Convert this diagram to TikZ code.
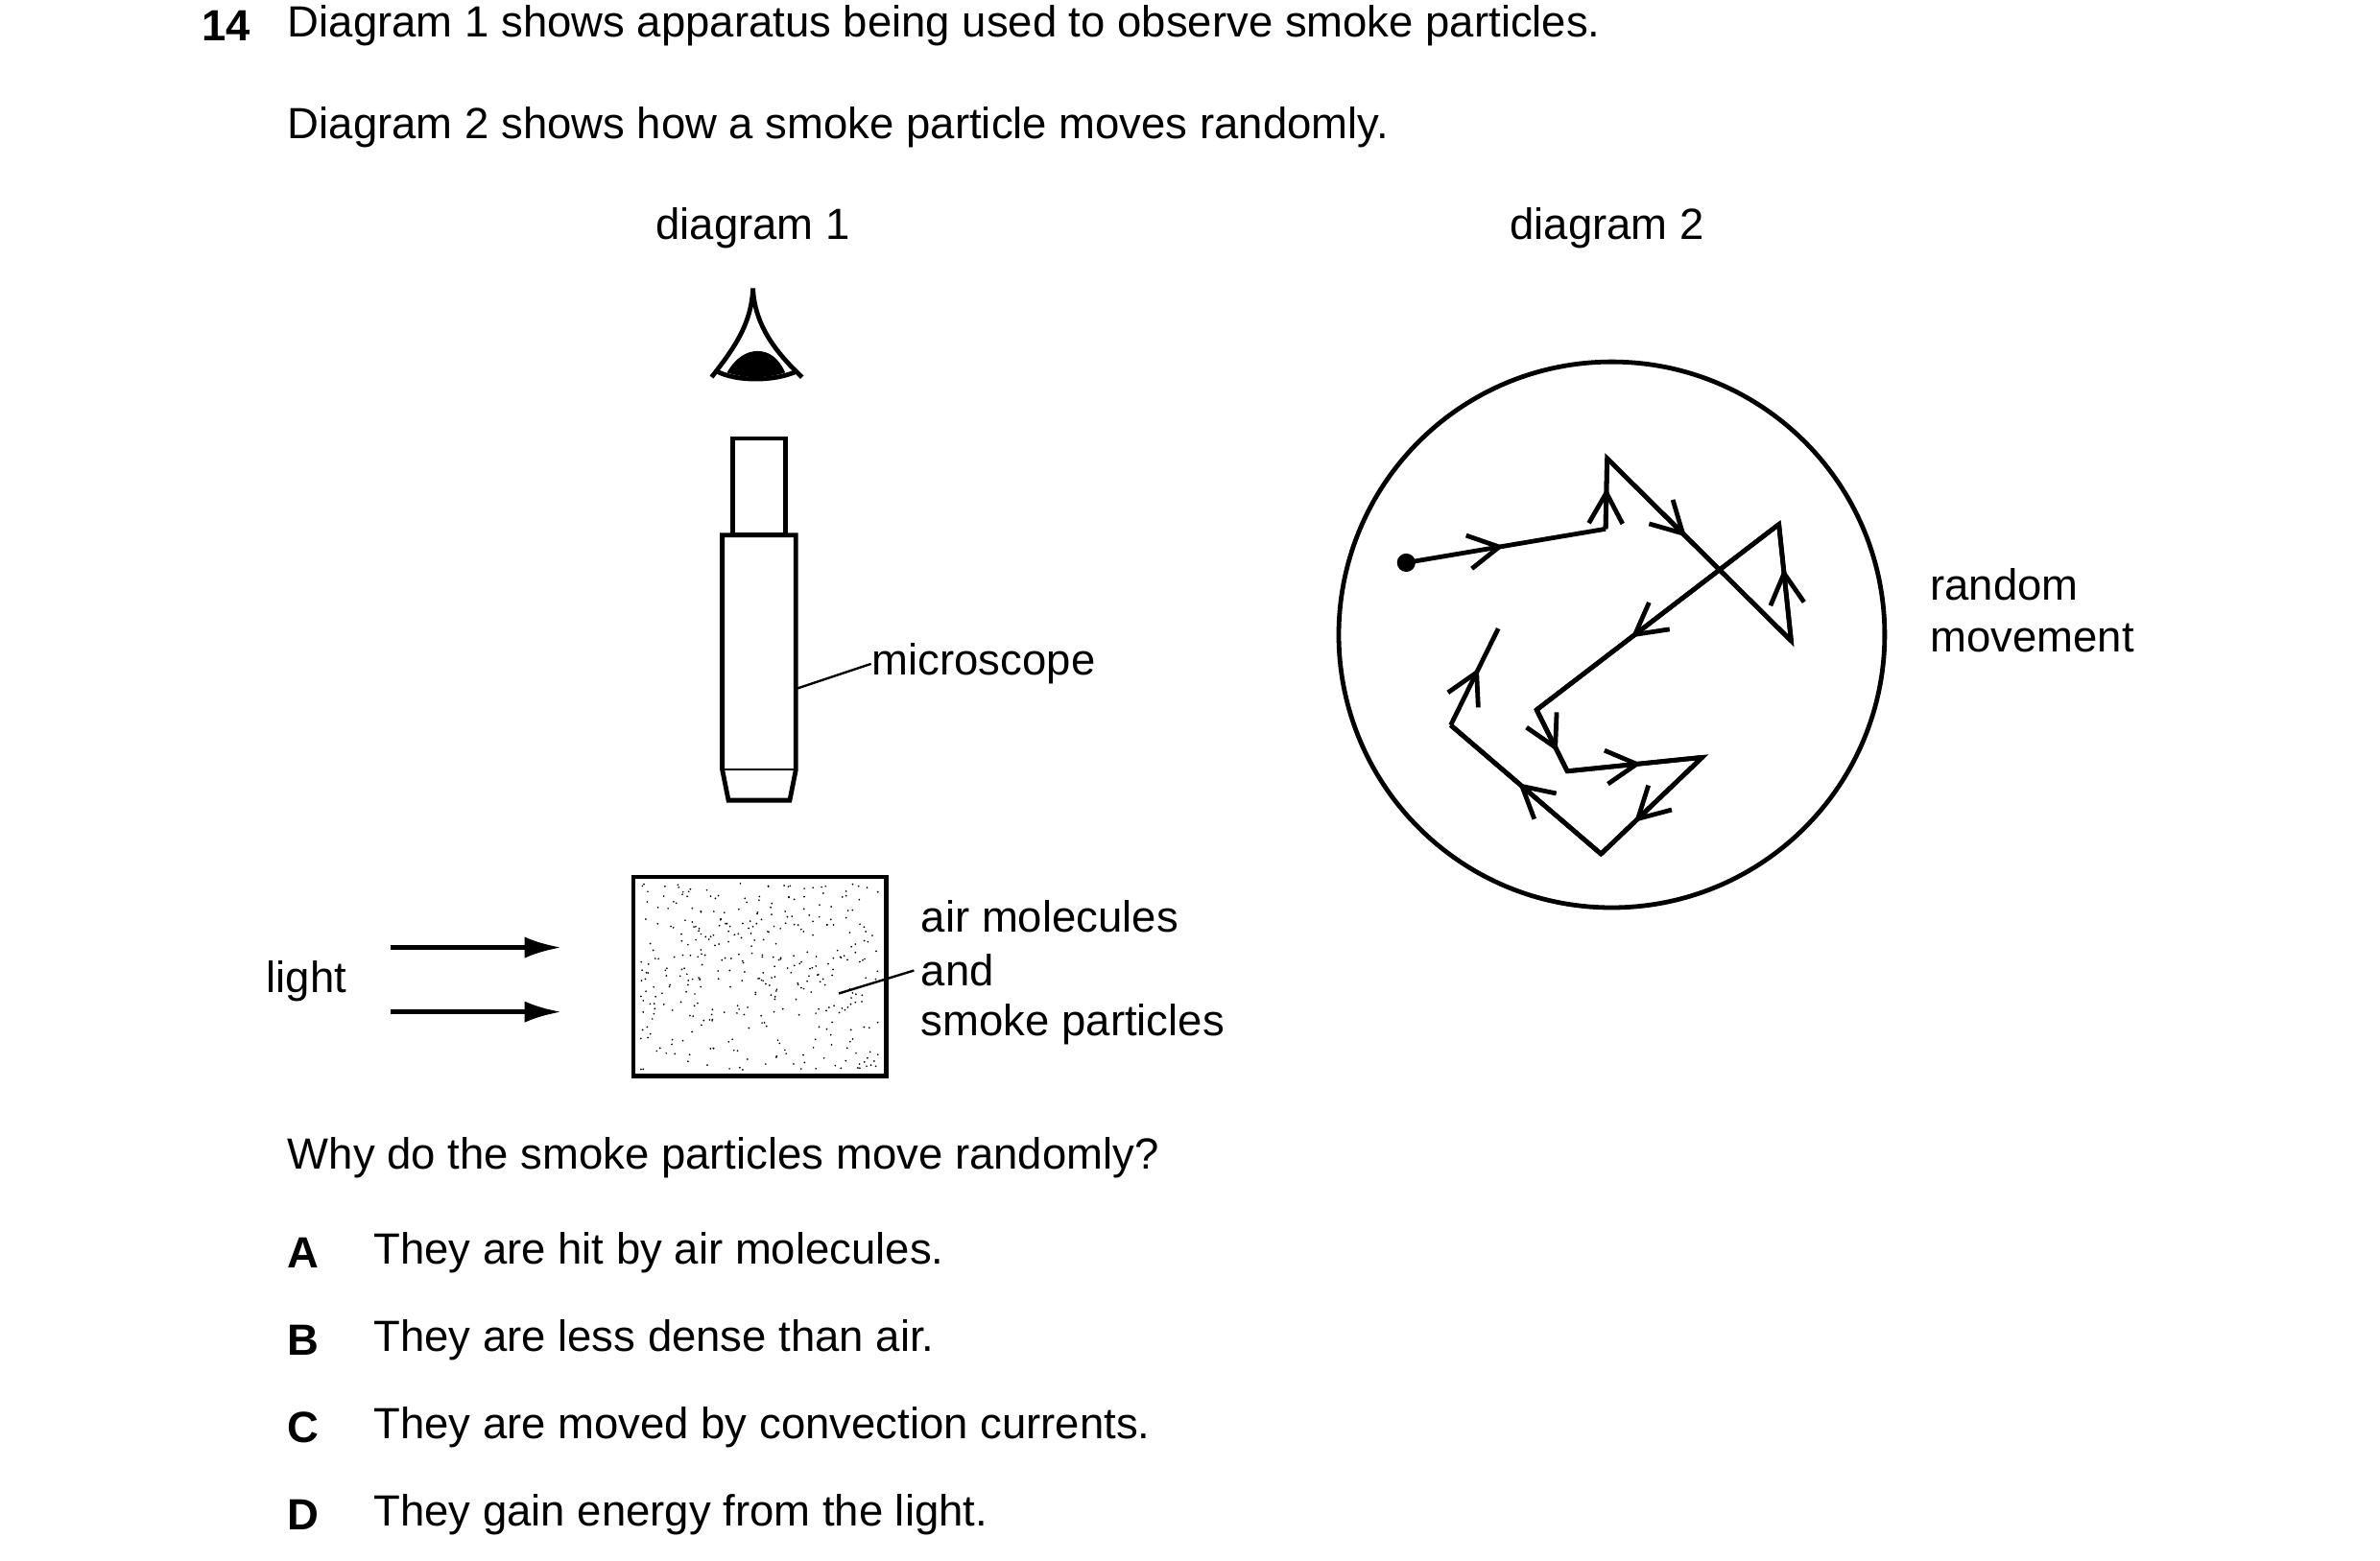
\documentclass[tikz,border=0pt]{standalone}
\usepackage{fontspec}
\setmainfont{Liberation Sans}
\usetikzlibrary{arrows.meta,decorations.markings}
\tikzset{
  txt/.style={anchor=west, inner sep=0pt, font=\fontsize{8.1}{10}\selectfont},
  part/.style={line width=0.3mm, line join=miter},
  mid/.style={postaction={decorate, decoration={markings,
      mark=at position #1 with {\arrow{Straight Barb[length=2mm,width=2.2mm,line width=0.3mm]}}}}}
}
\begin{document}
\begin{tikzpicture}[x=0.1mm, y=-0.1mm]
    \useasboundingbox (0,0) rectangle (1552,1018);

    % Question text
    \node[txt, font=\fontsize{8.1}{10}\selectfont\bfseries] (num) at (131,17) {14};
    \node[txt] (q1) at (187,17) {Diagram 1 shows apparatus being used to observe smoke particles.};
    \node[txt] (q2) at (187,83) {Diagram 2 shows how a smoke particle moves randomly.};
    \node[txt, anchor=center] (d1) at (491,149) {diagram 1};
    \node[txt, anchor=center] (d2) at (1048,149) {diagram 2};

    % Eye
    \draw[part] (464,246) .. controls (478,228) and (490,212) .. (491,188)
                .. controls (492,212) and (506,230) .. (523,246);
    \draw[part] (467,242) .. controls (480,249) and (505,249) .. (520,242);
    \fill (474,243) .. controls (480,233) and (487,229) .. (494,229)
          .. controls (502,229) and (508,234) .. (512,243)
          .. controls (500,247) and (486,247) .. (474,243) -- cycle;

    % Microscope
    \draw[part] (478,349) rectangle (512,286);
    \draw[part] (471,349) -- (519,349) -- (519,502) -- (515,522) -- (475,522) -- (471,502) -- cycle;
    \draw[line width=0.12mm] (471,502) -- (519,502);
    \coordinate (scopept) at (520,449);
    \node[txt] (scope) at (568,433) {microscope};
    \draw[line width=0.15mm] (scopept) -- (scope.west);

    % Smoke cell
    \pgfmathsetseed{11}
    \foreach \i in {1,...,380}
        \fill ({417+rnd*157},{576+rnd*122}) circle (0.6);
    \draw[line width=0.3mm] (413,572) rectangle (578,702);
    \coordinate (cellpt) at (547,648);
    \node[txt] (air) at (600,598) {air molecules};
    \node[txt] (and) at (600,633) {and};
    \node[txt] (smoke) at (600,668) {smoke particles};
    \draw[line width=0.15mm] (cellpt) -- (596,633);

    % Light
    \node[txt] (light) at (173,640) {light};
    \foreach \y in {618,660}
        \draw[line width=0.3mm, -{Latex[length=2.4mm,width=1.4mm]}] (255,\y) -- (366,\y);

    % Diagram 2
    \draw[line width=0.3mm] (1051,414) circle (178);
    \coordinate (p0) at (917,367);
    \coordinate (p1) at (1047,345);
    \coordinate (p2) at (1048,299);
    \coordinate (p3) at (1168,418);
    \coordinate (p4) at (1160,342);
    \coordinate (p5) at (1002,463);
    \coordinate (p6) at (1022,503);
    \coordinate (p7) at (1110,494);
    \coordinate (p8) at (1044,557);
    \coordinate (p9) at (946,473);
    \coordinate (p10) at (977,410);
    \fill (p0) circle (6);
    \draw[part, mid=0.49] (p0) -- (p1);
    \draw[part, mid=0.58] (p1) -- (p2);
    \draw[part, mid=0.43] (p2) -- (p3);
    \draw[part, mid=0.62] (p3) -- (p4);
    \draw[part, mid=0.61] (p4) -- (p5);
    \draw[part, mid=0.68] (p5) -- (p6);
    \draw[part, mid=0.55] (p6) -- (p7);
    \draw[part, mid=0.67] (p7) -- (p8);
    \draw[part, mid=0.55] (p8) -- (p9);
    \draw[part, mid=0.59] (p9) -- (p10);
    \draw[part] (p1) -- (p2) -- (p3) -- (p4) -- (p5) -- (p6) -- (p7) -- (p8) -- (p9);
    \node[txt] (rand) at (1258,381) {random};
    \node[txt] (move) at (1258,416) {movement};

    % Options
    \node[txt] (why) at (187,755) {Why do the smoke particles move randomly?};
    \foreach \l/\t/\y in {A/They are hit by air molecules./817,
                          B/They are less dense than air./874,
                          C/They are moved by convection currents./931,
                          D/They gain energy from the light./988} {
        \node[txt, font=\fontsize{8.1}{10}\selectfont\bfseries] (opt\l) at (187,\y) {\l};
        \node[txt] (ans\l) at (243,\y) {\t};
    }
\end{tikzpicture}
\end{document}
